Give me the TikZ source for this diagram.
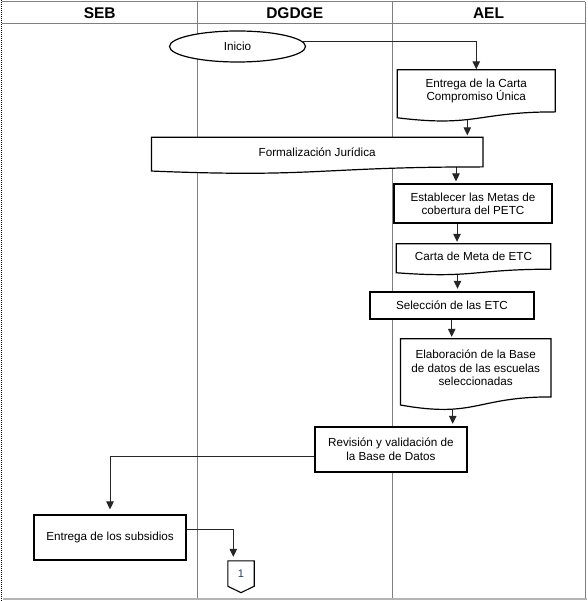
\documentclass[tikz,border=0pt]{standalone}
\usepackage{fontspec}
\setmainfont{Liberation Sans}
\usetikzlibrary{arrows.meta,calc,shapes.geometric}
\pgfdeclarelayer{lanes}
\pgfdeclarelayer{conns}
\pgfdeclarelayer{shps}
\pgfsetlayers{lanes,conns,shps,main}
\definecolor{lanegray}{HTML}{7F7F7F}
\definecolor{bordergray}{HTML}{B4B4B4}
\definecolor{connblue}{HTML}{1F3F6F}
\newcommand\fs{\fontsize{11.7}{13.5}\selectfont}
\newcommand\docoutline[1]{%
  \path[docline] let \p1=($(#1.north)-(#1.south)$) in
    (#1.north west) -- (#1.north east) -- (#1.south east)
    .. controls (#1.south) and ($(#1.south)+(0pt,-0.37*\y1)$)
    .. ($(#1.south west)+(0pt,-0.14*\y1)$) -- cycle;}
\tikzset{
  lane/.style={draw=lanegray, line width=1pt},
  proc/.style={draw=black, fill=white, line width=1.8pt, align=center, inner sep=0pt, font=\fs},
  doctext/.style={align=center, inner sep=0pt, font=\fs},
  docline/.style={draw=black, fill=white, line width=1.2pt},
  arr/.style={draw=black!85, line width=1pt, -{Triangle[length=8pt,width=7.5pt]}, shorten >=2pt},
  startend/.style={ellipse, draw=black, fill=white, line width=1.2pt, minimum width=136pt, minimum height=31pt, inner sep=0pt, font=\fs},
  hdr/.style={font=\bfseries\fontsize{15.5}{18}\selectfont},
  pagecon/.style={inner sep=0pt, font=\fontsize{11}{13}\selectfont, text=connblue}
}
\begin{document}
\begin{tikzpicture}[x=1pt,y=-1pt]
\useasboundingbox (0,0) rectangle (587,601);

% lanes
\begin{pgfonlayer}{lanes}
  \fill[white] (0,0) rectangle (587,601);
  \draw[lane] (2,2) -- (585,2);
  \draw[lane] (2,23.5) -- (585,23.5);
  \draw[lane] (197.5,2) -- (197.5,599);
  \draw[lane] (392,2) -- (392,599);
  \draw[lane] (585,2) -- (585,599);
  \draw[draw=bordergray, line width=2pt] (3,599) -- (587,599);
  \draw[black, line width=1.2pt, dash pattern=on 1pt off 1pt] (1.3,0) -- (1.3,601);
\end{pgfonlayer}

% headers
\node[hdr] (hseb) at (99.7,13) {SEB};
\node[hdr] (hdgdge) at (294.7,13) {DGDGE};
\node[hdr] (hael) at (488.5,13) {AEL};

% start
\node[startend] (inicio) at (237.5,46.5) {Inicio};

% documents
\node[doctext, minimum width=157.5pt, minimum height=41.7pt] (doc1) at (476.25,90.85) {Entrega de la Carta\\Compromiso Única};
\node[doctext, minimum width=331pt, minimum height=29.2pt] (formal) at (317.2,152.1) {Formalización Jurídica};
\node[doctext, minimum width=154pt, minimum height=25pt] (carta) at (473.5,256.5) {Carta de Meta de ETC};
\node[doctext, minimum width=150pt, minimum height=57.7pt] (elab) at (475.7,367.85) {Elaboración de la Base\\de datos de las escuelas\\seleccionadas};
\begin{pgfonlayer}{shps}
  \docoutline{doc1}
  \docoutline{formal}
  \docoutline{carta}
  \docoutline{elab}
\end{pgfonlayer}

% processes
\node[proc, minimum width=157.4pt, minimum height=39pt] (estab) at (473,203.8) {Establecer las Metas de\\cobertura del PETC};
\node[proc, minimum width=164pt, minimum height=27pt] (selec) at (452,305.2) {Selección de las ETC};
\node[proc, minimum width=151.7pt, minimum height=45pt] (revis) at (390.85,449.2) {Revisión y validación de\\la Base de Datos};
\node[proc, minimum width=152pt, minimum height=44.7pt] (entrega) at (110,537.65) {Entrega de los subsidios};

% off-page connector
\node[pagecon, minimum width=26pt, minimum height=25pt] (conn) at (241,573.5) {1};
\begin{pgfonlayer}{shps}
  \path[docline, line width=1.1pt] (conn.north west) -- (conn.north east) -- (conn.south east)
     -- ($(conn.south)+(0pt,-6.5pt)$) -- (conn.south west) -- cycle;
\end{pgfonlayer}

% connector x positions
\coordinate (xb) at (467.3,0);
\coordinate (xc) at (456,0);
\coordinate (xd) at (457,0);
\coordinate (xe) at (457.5,0);
\coordinate (xf) at (451.7,0);
\coordinate (xg) at (452.7,0);
\coordinate (xi) at (233.3,0);

\begin{pgfonlayer}{conns}
  \draw[arr, shorten >=0.5pt] (inicio.4) -| (doc1.north);
  \draw[arr] (doc1.south -| xb) -- (formal.north -| xb);
  \draw[arr] (formal.south -| xc) -- (estab.north -| xc);
  \draw[arr] (estab.south -| xd) -- (carta.north -| xd);
  \draw[arr] (carta.south -| xe) -- (selec.north -| xe);
  \draw[arr] (selec.south -| xf) -- (elab.north -| xf);
  \draw[arr] (elab.south -| xg) -- (revis.north -| xg);
  \draw[arr, shorten >=5pt] ([yshift=-6.8pt]revis.west) -| (entrega.north);
  \draw[arr, shorten >=4pt] ([yshift=7.7pt]entrega.east) -| (conn.north -| xi);
\end{pgfonlayer}
\end{tikzpicture}
\end{document}
